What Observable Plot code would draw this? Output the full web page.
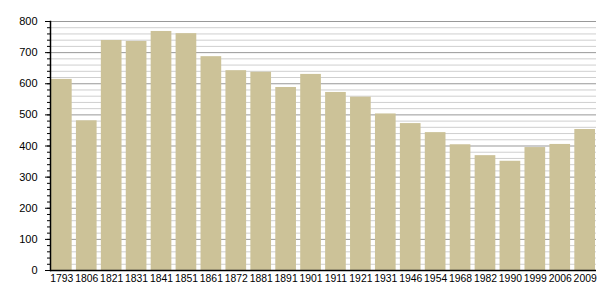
<!DOCTYPE html>
<html>
<head>
<meta charset="utf-8">
<script src="https://cdn.jsdelivr.net/npm/d3@7"></script>
<script src="https://cdn.jsdelivr.net/npm/@observablehq/plot@0.6"></script>
<style>
  html, body { margin: 0; padding: 0; background: #fff; }
</style>
</head>
<body>
<div id="chart"></div>
<script>
const years = ["1793","1806","1821","1831","1841","1851","1861","1872","1881","1891","1901","1911","1921","1931","1946","1954","1968","1982","1990","1999","2006","2009"];
const population = [614, 481, 739, 736, 768, 761, 687, 642, 637, 588, 630, 572, 557, 503, 472, 443, 404, 369, 351, 395, 405, 453];
const majorTicks = [0, 100, 200, 300, 400, 500, 600, 700, 800];
const minorTicks = d3.range(0, 801, 20);

const data = years.map((y, i) => ({year: y, value: population[i]}));

const chart = Plot.plot({
  width: 605,
  height: 300,
  marginLeft: 50,
  marginRight: 9,
  marginTop: 21,
  marginBottom: 30,
  style: {fontFamily: "'Liberation Sans', Arial, sans-serif", fontSize: "10px", color: "#000", background: "#fff"},
  x: {domain: years, paddingInner: 0.17, paddingOuter: 0.04, round: false, label: null},
  y: {domain: [0, 800], label: null},
  marks: [
    Plot.ruleY(minorTicks.filter(d => d % 100 !== 0), {stroke: "#cfcfcf", strokeWidth: 1}),
    Plot.ruleY(majorTicks.filter(d => d > 0), {stroke: "#999", strokeWidth: 1}),
    Plot.barY(data, {x: "year", y: "value", fill: "#ccc298"}),
    Plot.axisY({ticks: minorTicks, tickSize: 3, tickFormat: () => "", stroke: "#000", strokeOpacity: 1}),
    Plot.axisY({ticks: majorTicks, tickSize: 5, tickPadding: 8, stroke: "#000", strokeOpacity: 1, fill: "#000", fontSize: 11}),
    Plot.axisX({tickSize: 0, tickPadding: 4.5, fill: "#000", fontSize: 10.4, style: {letterSpacing: "-0.3px"}}),
    Plot.ruleY([0], {stroke: "#000", strokeWidth: 1.5}),
    Plot.frame({anchor: "left", stroke: "#000", strokeWidth: 1.5})
  ]
});
document.getElementById("chart").appendChild(chart);
</script>
</body>
</html>
